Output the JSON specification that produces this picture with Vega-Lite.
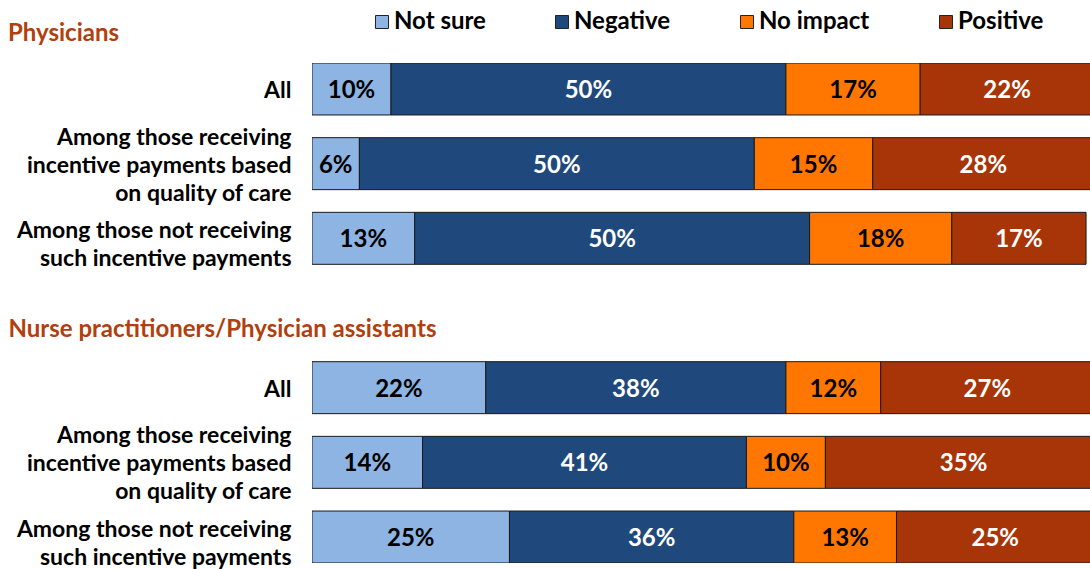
{
  "$schema": "https://vega.github.io/schema/vega-lite/v6.json",
  "autosize": {"type": "none"},
  "width": 778,
  "height": 500,
  "padding": {"left": 312, "top": 63, "right": 0, "bottom": 6},
  "background": "white",
  "config": {"view": {"stroke": null}, "font": "Lato"},
  "title": {
    "text": "Physicians",
    "anchor": "start",
    "frame": "group",
    "dx": -304,
    "offset": -36,
    "fontSize": 24,
    "fontWeight": "bold",
    "color": "#B0400E",
    "font": "Lato"
  },
  "data": {
    "values": [
      {"row": "1|All", "cat": "Not sure", "k": 1, "pct": 0.10},
      {"row": "1|All", "cat": "Negative", "k": 2, "pct": 0.50},
      {"row": "1|All", "cat": "No impact", "k": 3, "pct": 0.17},
      {"row": "1|All", "cat": "Positive", "k": 4, "pct": 0.22},
      {"row": "2|Among those receiving|incentive payments based|on quality of care", "cat": "Not sure", "k": 1, "pct": 0.06},
      {"row": "2|Among those receiving|incentive payments based|on quality of care", "cat": "Negative", "k": 2, "pct": 0.50},
      {"row": "2|Among those receiving|incentive payments based|on quality of care", "cat": "No impact", "k": 3, "pct": 0.15},
      {"row": "2|Among those receiving|incentive payments based|on quality of care", "cat": "Positive", "k": 4, "pct": 0.28},
      {"row": "3|Among those not receiving|such incentive payments", "cat": "Not sure", "k": 1, "pct": 0.13},
      {"row": "3|Among those not receiving|such incentive payments", "cat": "Negative", "k": 2, "pct": 0.50},
      {"row": "3|Among those not receiving|such incentive payments", "cat": "No impact", "k": 3, "pct": 0.18},
      {"row": "3|Among those not receiving|such incentive payments", "cat": "Positive", "k": 4, "pct": 0.17},
      {"row": "5|All", "cat": "Not sure", "k": 1, "pct": 0.22},
      {"row": "5|All", "cat": "Negative", "k": 2, "pct": 0.38},
      {"row": "5|All", "cat": "No impact", "k": 3, "pct": 0.12},
      {"row": "5|All", "cat": "Positive", "k": 4, "pct": 0.27},
      {"row": "6|Among those receiving|incentive payments based|on quality of care", "cat": "Not sure", "k": 1, "pct": 0.14},
      {"row": "6|Among those receiving|incentive payments based|on quality of care", "cat": "Negative", "k": 2, "pct": 0.41},
      {"row": "6|Among those receiving|incentive payments based|on quality of care", "cat": "No impact", "k": 3, "pct": 0.10},
      {"row": "6|Among those receiving|incentive payments based|on quality of care", "cat": "Positive", "k": 4, "pct": 0.35},
      {"row": "7|Among those not receiving|such incentive payments", "cat": "Not sure", "k": 1, "pct": 0.25},
      {"row": "7|Among those not receiving|such incentive payments", "cat": "Negative", "k": 2, "pct": 0.36},
      {"row": "7|Among those not receiving|such incentive payments", "cat": "No impact", "k": 3, "pct": 0.13},
      {"row": "7|Among those not receiving|such incentive payments", "cat": "Positive", "k": 4, "pct": 0.25}
    ]
  },
  "encoding": {
    "y": {
      "field": "row",
      "type": "nominal",
      "scale": {
        "type": "band",
        "domain": [
          "1|All",
          "2|Among those receiving|incentive payments based|on quality of care",
          "3|Among those not receiving|such incentive payments",
          "4|Nurse practitioners/Physician assistants",
          "5|All",
          "6|Among those receiving|incentive payments based|on quality of care",
          "7|Among those not receiving|such incentive payments"
        ],
        "paddingInner": 0.304,
        "paddingOuter": 0
      },
      "axis": {
        "title": null,
        "domain": false,
        "ticks": false,
        "tickSize": 0,
        "labelExpr": "slice(split(datum.value, '|'), 1)",
        "labelFont": "Lato",
        "labelFontWeight": "bold",
        "labelLineHeight": 28,
        "labelLimit": 600,
        "labelColor": {"condition": {"test": "indexof(datum.value, '4|') == 0", "value": "#B0400E"}, "value": "black"},
        "labelFontSize": {"condition": {"test": "indexof(datum.value, '4|') == 0", "value": 24}, "value": 23},
        "labelAlign": {"condition": {"test": "indexof(datum.value, '4|') == 0", "value": "left"}, "value": "right"},
        "labelPadding": {"condition": {"test": "indexof(datum.value, '4|') == 0", "value": 304}, "value": 21},
        "labelOffset": {
          "condition": [
            {"test": "indexof(datum.value, '4|') == 0", "value": 17},
            {"test": "length(split(datum.value, '|')) == 4", "value": -26},
            {"test": "length(split(datum.value, '|')) == 3", "value": -7}
          ],
          "value": 2
        }
      }
    }
  },
  "layer": [
    {
      "mark": {"type": "bar", "stroke": "#1a1a1a", "strokeWidth": 1, "clip": true},
      "encoding": {
        "x": {
          "field": "pct",
          "type": "quantitative",
          "stack": "zero",
          "scale": {"domain": [0, 0.985], "nice": false, "zero": true},
          "axis": null
        },
        "order": {"field": "k", "type": "quantitative"},
        "color": {
          "field": "cat",
          "type": "nominal",
          "scale": {
            "domain": ["Not sure", "Negative", "No impact", "Positive"],
            "range": ["#8DB4E3", "#1F497D", "#FF7700", "#A83508"]
          },
          "legend": {
            "title": null,
            "orient": "none",
            "direction": "horizontal",
            "legendX": 58,
            "legendY": -53,
            "symbolType": "square",
            "symbolSize": 169,
            "symbolStrokeColor": "#222222",
            "symbolStrokeWidth": 1,
            "labelFont": "Lato",
            "labelFontSize": 24,
            "labelFontWeight": "bold",
            "labelColor": "black",
            "labelOffset": 0,
            "columnPadding": 64,
            "labelLimit": 300
          }
        }
      }
    },
    {
      "mark": {"type": "text", "font": "Lato", "fontSize": 24, "fontWeight": "bold", "baseline": "middle", "align": "center", "dy": 2},
      "encoding": {
        "x": {"field": "pct", "type": "quantitative", "stack": "zero", "bandPosition": 0.5},
        "order": {"field": "k", "type": "quantitative"},
        "detail": {"field": "cat", "type": "nominal"},
        "text": {"field": "pct", "type": "quantitative", "format": ".0%"},
        "color": {
          "condition": {"test": "datum.cat == 'Negative' || datum.cat == 'Positive'", "value": "white"},
          "value": "black"
        }
      }
    }
  ]
}
